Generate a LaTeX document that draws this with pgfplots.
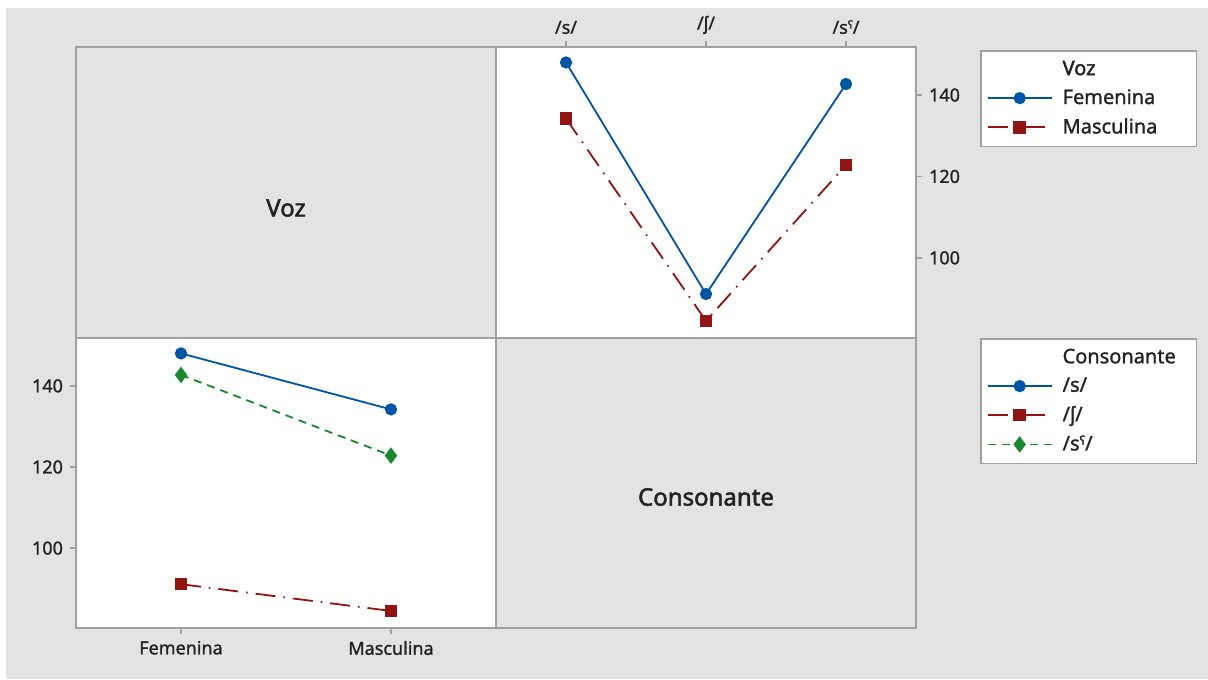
\documentclass[border=0pt]{standalone}
\usepackage{fontspec}
\setmainfont{Noto Sans}
\newfontfamily\boldf{Noto Sans}[FakeBold=2]
\newfontfamily\semib{Noto Sans}[FakeBold=1.2]
\usepackage{pgfplots}
\pgfplotsset{compat=1.18}
\definecolor{bg}{RGB}{227,227,227}
\definecolor{frame}{RGB}{160,160,160}
\definecolor{cblue}{RGB}{0,84,166}
\definecolor{cred}{RGB}{145,20,20}
\definecolor{cgreen}{RGB}{25,135,45}
\definecolor{txt}{RGB}{35,35,35}
\pgfplotsset{
  panel/.style={
    scale only axis, width=210pt,
    axis background/.style={fill=white},
    axis line style={frame, line width=1pt},
    tick align=outside, major tick length=3pt,
    tick style={frame, line width=0.7pt},
    ticklabel style={font=\semib\fontsize{9}{10}\selectfont, text=txt},
    /pgf/number format/assume math mode=true,
    ymin=80.3, ymax=151.8,
    ytick={100,120,140},
    legend style={draw=frame, line width=0.8pt, fill=white,
      font=\semib\fontsize{10}{12}\selectfont, text=txt, anchor=north west,
      nodes={text width=62pt, align=left}, inner sep=3pt,
      column sep=3pt, row sep=1.6pt},
    legend cell align=left,
    legend image code/.code={\draw[mark repeat=2,mark phase=2,##1] plot coordinates {(0pt,0pt) (16pt,0pt) (32pt,0pt)};},
  },
  sF/.style={cblue, line width=0.9pt, solid, mark=*, mark size=2.6pt, mark options={solid}},
  sM/.style={cred, line width=0.9pt, dash pattern=on 10pt off 4pt on 0.8pt off 4pt, mark=square*, mark size=2.7pt, mark options={solid}},
  sG/.style={cgreen, line width=0.9pt, dash pattern=on 4pt off 3pt, mark=diamond*, mark size=3.4pt, mark options={solid}},
}
\begin{document}
\begin{tikzpicture}
\fill[white] (0,0) rectangle (604pt,339.5pt);
\fill[bg] (3pt,0) rectangle (604pt,335.5pt);
\draw[frame, line width=1pt, fill=bg] (38pt,170.5pt) rectangle (248pt,316pt);
\draw[frame, line width=1pt, fill=bg] (248pt,25.5pt) rectangle (458pt,170.5pt);
\node[font=\boldf\fontsize{12}{14}\selectfont, text=txt] at (143pt,235.5pt) {Voz};
\node[font=\boldf\fontsize{12}{14}\selectfont, text=txt] at (353pt,91pt) {Consonante};

% top-right: Voz lines across Consonante
\begin{axis}[panel, at={(248pt,170.5pt)}, anchor=south west, height=145.5pt,
  xmin=-0.5, xmax=2.5, xtick={0,1,2}, xticklabels={/s/,/ʃ/,/sˤ/},
  xtick pos=right, xticklabel pos=right, ytick pos=right, yticklabel pos=right,
  legend style={at={(1.1524,0.9897)}}]
\addlegendimage{empty legend}\addlegendentry{{\boldf Voz}}
\addplot[sF] coordinates {(0,148.0) (1,91.1) (2,142.7)};
\addlegendentry{Femenina}
\addplot[sM] coordinates {(0,134.2) (1,84.5) (2,122.8)};
\addlegendentry{Masculina}
\end{axis}

% bottom-left: Consonante lines across Voz
\begin{axis}[panel, at={(38pt,25.5pt)}, anchor=south west, height=145pt,
  xmin=-0.5, xmax=1.5, xtick={0,1}, xticklabels={Femenina,Masculina},
  xtick pos=left, ytick pos=left,
  legend style={at={(2.1524,1.0)}}]
\addlegendimage{empty legend}\addlegendentry{Consonante}
\addplot[sF] coordinates {(0,148.0) (1,134.2)};
\addlegendentry{/s/}
\addplot[sM] coordinates {(0,91.1) (1,84.5)};
\addlegendentry{/ʃ/}
\addplot[sG] coordinates {(0,142.7) (1,122.8)};
\addlegendentry{/sˤ/}
\end{axis}
\end{tikzpicture}
\end{document}
